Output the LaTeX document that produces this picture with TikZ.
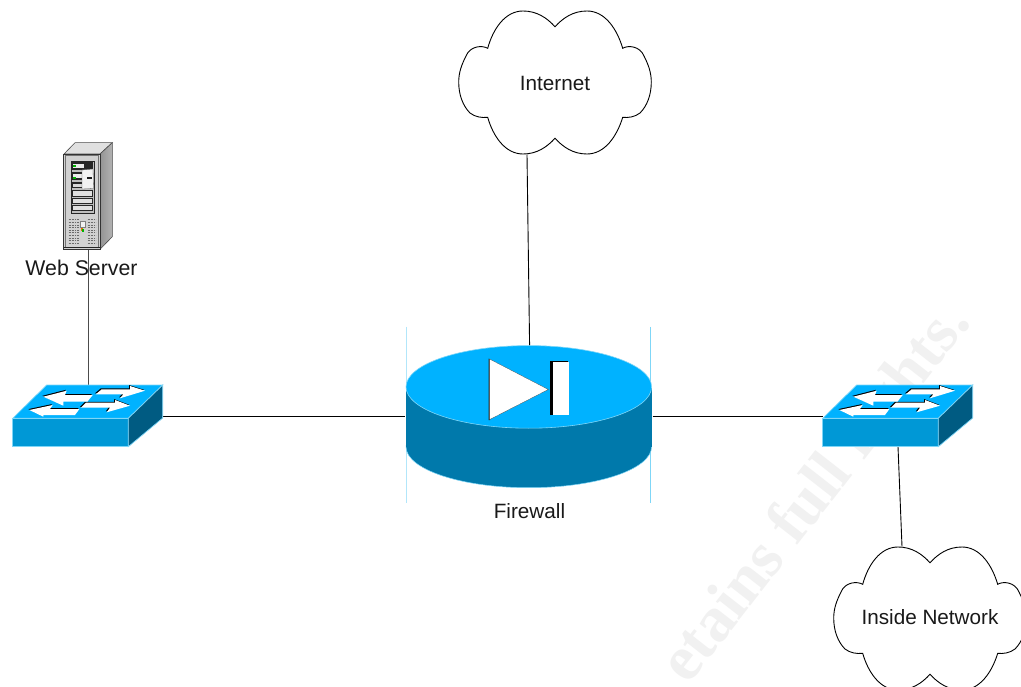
\documentclass[tikz,border=0pt]{standalone}
\usepackage{fontspec}
\setmainfont{Liberation Sans}
\newfontfamily\wmfont{Liberation Serif}[BoldFont={Liberation Serif Bold}]
\definecolor{topblue}{HTML}{00B2FF}
\definecolor{frontblue}{HTML}{0098D6}
\definecolor{sideblue}{HTML}{005B82}
\definecolor{bodyblue}{HTML}{0079AB}
\definecolor{edgeblue}{HTML}{7FD6F7}
\definecolor{wm}{HTML}{F1F1F1}
\tikzset{
  label text/.style={font=\fontsize{20.7}{24}\selectfont,text=black!90,inner sep=0pt},
  link/.style={draw=black,line width=0.9pt},
  cloudpic/.pic={
    \draw[fill=white,line width=0.9pt,line join=miter]
      (0,-55.3)
      .. controls (-8,-64) and (-18,-71) .. (-32,-71)
      .. controls (-50,-71) and (-62,-53) .. (-67.3,-33.7)
      .. controls (-73,-37) and (-85,-36) .. (-89,-26)
      .. controls (-93,-18) and (-96.3,-10) .. (-96.3,0)
      .. controls (-96.3,13) and (-92,24) .. (-85,31)
      .. controls (-80,35) and (-73,36) .. (-67.3,35.3)
      .. controls (-62,54) and (-50,72) .. (-32,72)
      .. controls (-18,72) and (-8,65) .. (0,56.3)
      .. controls (8,65) and (18,72) .. (32,72)
      .. controls (50,72) and (62,54) .. (67.7,35.3)
      .. controls (73,36) and (80,35) .. (85,31)
      .. controls (92,24) and (96.3,13) .. (96.3,0)
      .. controls (96.3,-10) and (93,-18) .. (89,-26)
      .. controls (85,-36) and (73,-37) .. (67.7,-33.7)
      .. controls (62,-53) and (50,-71) .. (32,-71)
      .. controls (18,-71) and (8,-64) .. (0,-55.3) -- cycle;
  },
  switchpic/.pic={
    \path[fill=topblue,draw=edgeblue,line width=0.7pt] (0,33.3) -- (34,0) -- (150,0) -- (115.6,33.3) -- cycle;
    \path[fill=frontblue,draw=edgeblue,line width=0.7pt] (0,33.3) rectangle (115.6,61.7);
    \path[fill=sideblue,draw=edgeblue,line width=0.7pt] (115.6,33.3) -- (150,0) -- (150,33) -- (115.6,61.7) -- cycle;
    \foreach \sx/\sy/\c in {-0.9/-0.9/black,0/0/white}{
      \begin{scope}[shift={(\sx,\sy)}]
      \fill[\c] (83,9.3) -- (89,4.3) -- (117.3,4.3) -- (117.3,1) -- (132.3,5.7) -- (107.3,13.3) -- (110.7,9.3) -- cycle;
      \fill[\c] (30.6,11.7) -- (54,5.7) -- (52.3,10) -- (80,10) -- (74.7,16.7) -- (50.6,16.7) -- (50.6,20.7) -- cycle;
      \fill[\c] (16.6,25) -- (40,20) -- (37.3,24) -- (66.7,24) -- (62.3,30) -- (30.6,30) -- (30.6,31.7) -- cycle;
      \fill[\c] (68.3,22.7) -- (73.3,17.7) -- (102.3,17.7) -- (102.3,15) -- (117.3,20.7) -- (94,27.3) -- (97.3,22.7) -- cycle;
      \end{scope}
    }
  },
  serverpic/.pic={
    \path[fill=black!12,draw=black!70,line width=0.6pt] (64,154) -- (75,142.7) -- (112.3,142.7) -- (100,154) -- cycle;
    \shade[left color=black!42,right color=black!30] (100,154) -- (112.3,142.7) -- (112.3,236.7) -- (100,249.3) -- cycle;
    \draw[black!70,line width=0.6pt] (100,154) -- (112.3,142.7) -- (112.3,236.7) -- (100,249.3);
    \path[fill=black!18,draw=black!80,line width=0.8pt] (63.7,154) rectangle (100.3,249.3);
    \draw[black!55,line width=1.2pt] (65.6,155.5) rectangle (98.5,247.2);
    \path[fill=black!25,draw=black!85,line width=0.9pt] (71,161) rectangle (94,213);
    \fill[black!85] (72,162.5) rectangle (93,170);
    \fill[black!85] (72,172.5) rectangle (93,180);
    \fill[black!85] (72,182.5) rectangle (93,188.3);
    \fill[black!8] (72.5,164) rectangle (84,168);
    \fill[black!8] (72.5,174) rectangle (84,178);
    \fill[black!15] (72.5,184) rectangle (84,187);
    \path[fill=black!5,draw=black!65,line width=0.3pt] (82,170) -- (93,169) -- (93.5,188.5) -- (82,189) -- cycle;
    \fill[black!90] (87,177) rectangle (91.5,179.5);
    \fill[green!70!black] (73,164.8) rectangle (75.5,167);
    \fill[green!70!black] (73,177) rectangle (75.5,179.3);
    \foreach \y in {190.7,198.3,205.3}{
      \path[fill=black!12,draw=black!85,line width=0.7pt] (72.3,\y) rectangle (92.7,\y+5.2);
    }
    \foreach \y in {220,222.6,...,245}{
      \draw[black!58,line width=1pt,dash pattern=on 1pt off 0.6pt] (68.5,\y) -- (79,\y);
      \draw[black!58,line width=1pt,dash pattern=on 1pt off 0.6pt] (87.5,\y) -- (95.5,\y);
    }
    \path[fill=black!5,draw=black!50,line width=0.4pt] (80.5,221.5) rectangle (85,227);
    \fill[orange!90!black] (80.7,227.8) rectangle (83,231);
    \fill[green!70!black] (82,229) rectangle (84,232.5);
    \draw[black!85,line width=1pt] (64,248) -- (100,248);
  },
}
\begin{document}
\begin{tikzpicture}[x=1pt,y=-1pt]
\clip (0,0) rectangle (1021,687);
\fill[white] (0,0) rectangle (1021,687);

% faint watermark
\node[rotate=52,anchor=base east,inner sep=0pt,text=wm,font=\wmfont\bfseries\fontsize{64}{64}\selectfont] (mark) at (972,322.6) {etains full rights.};

% attachment points of the connectors
\coordinate (inetfoot) at (527,154.5);
\coordinate (fwtop) at (529.6,345.7);
\coordinate (swleftup) at (88,386);
\coordinate (srvfoot) at (88,249);
\coordinate (swrightdown) at (898,446.5);
\coordinate (insidetop) at (902,546.5);
\coordinate (fwl) at (405,416);
\coordinate (fwr) at (652.5,416);
\coordinate (swlr) at (163,416);
\coordinate (swrl) at (823,416);

% connectors
\draw[link] (inetfoot) -- (fwtop);
\draw[draw=black!70,line width=0.9pt] (srvfoot) -- (swleftup);
\draw[link] (swlr) -- (fwl);
\draw[link] (fwr) -- (swrl);
\draw[link] (swrightdown) -- (insidetop);

% clouds
\pic at (555,82) {cloudpic};
\pic at (930,618) {cloudpic};

% switches
\pic at (12.7,385) {switchpic};
\pic at (822.7,385) {switchpic};

% server
\pic at (0,0) {serverpic};

% firewall
\draw[draw=edgeblue!60,line width=1pt] (406,327) -- (406,503);
\draw[draw=edgeblue,line width=0.8pt] (650.5,327) -- (650.5,503);
\path[fill=bodyblue,draw=edgeblue,line width=0.5pt] (528.8,446.7) ellipse[x radius=122.8,y radius=41];
\fill[bodyblue] (406,387) rectangle (651.6,446.7);
\path[fill=topblue,draw=edgeblue,line width=0.6pt] (528.8,386.9) ellipse[x radius=122.8,y radius=41.3];
\fill[black!85] (488.6,358.7) -- (490.2,359.2) -- (490.2,420) -- (488.6,420) -- cycle;
\path[fill=white,draw=black!80,line width=0.2pt] (489.5,359) -- (548.3,389.5) -- (489.5,419.6) -- cycle;
\fill[black] (550.3,360.5) rectangle (567.5,415);
\fill[white] (552.7,361.7) rectangle (568.7,415);

% labels
\node[label text] (inetlabel) at (555,83) {Internet};
\node[label text] (insidelabel) at (930,617) {Inside Network};
\node[label text,font=\fontsize{21.3}{24}\selectfont] (serverlabel) at (81.5,268) {Web Server};
\node[label text] (fwlabel) at (529.5,511.5) {Firewall};
\end{tikzpicture}
\end{document}
